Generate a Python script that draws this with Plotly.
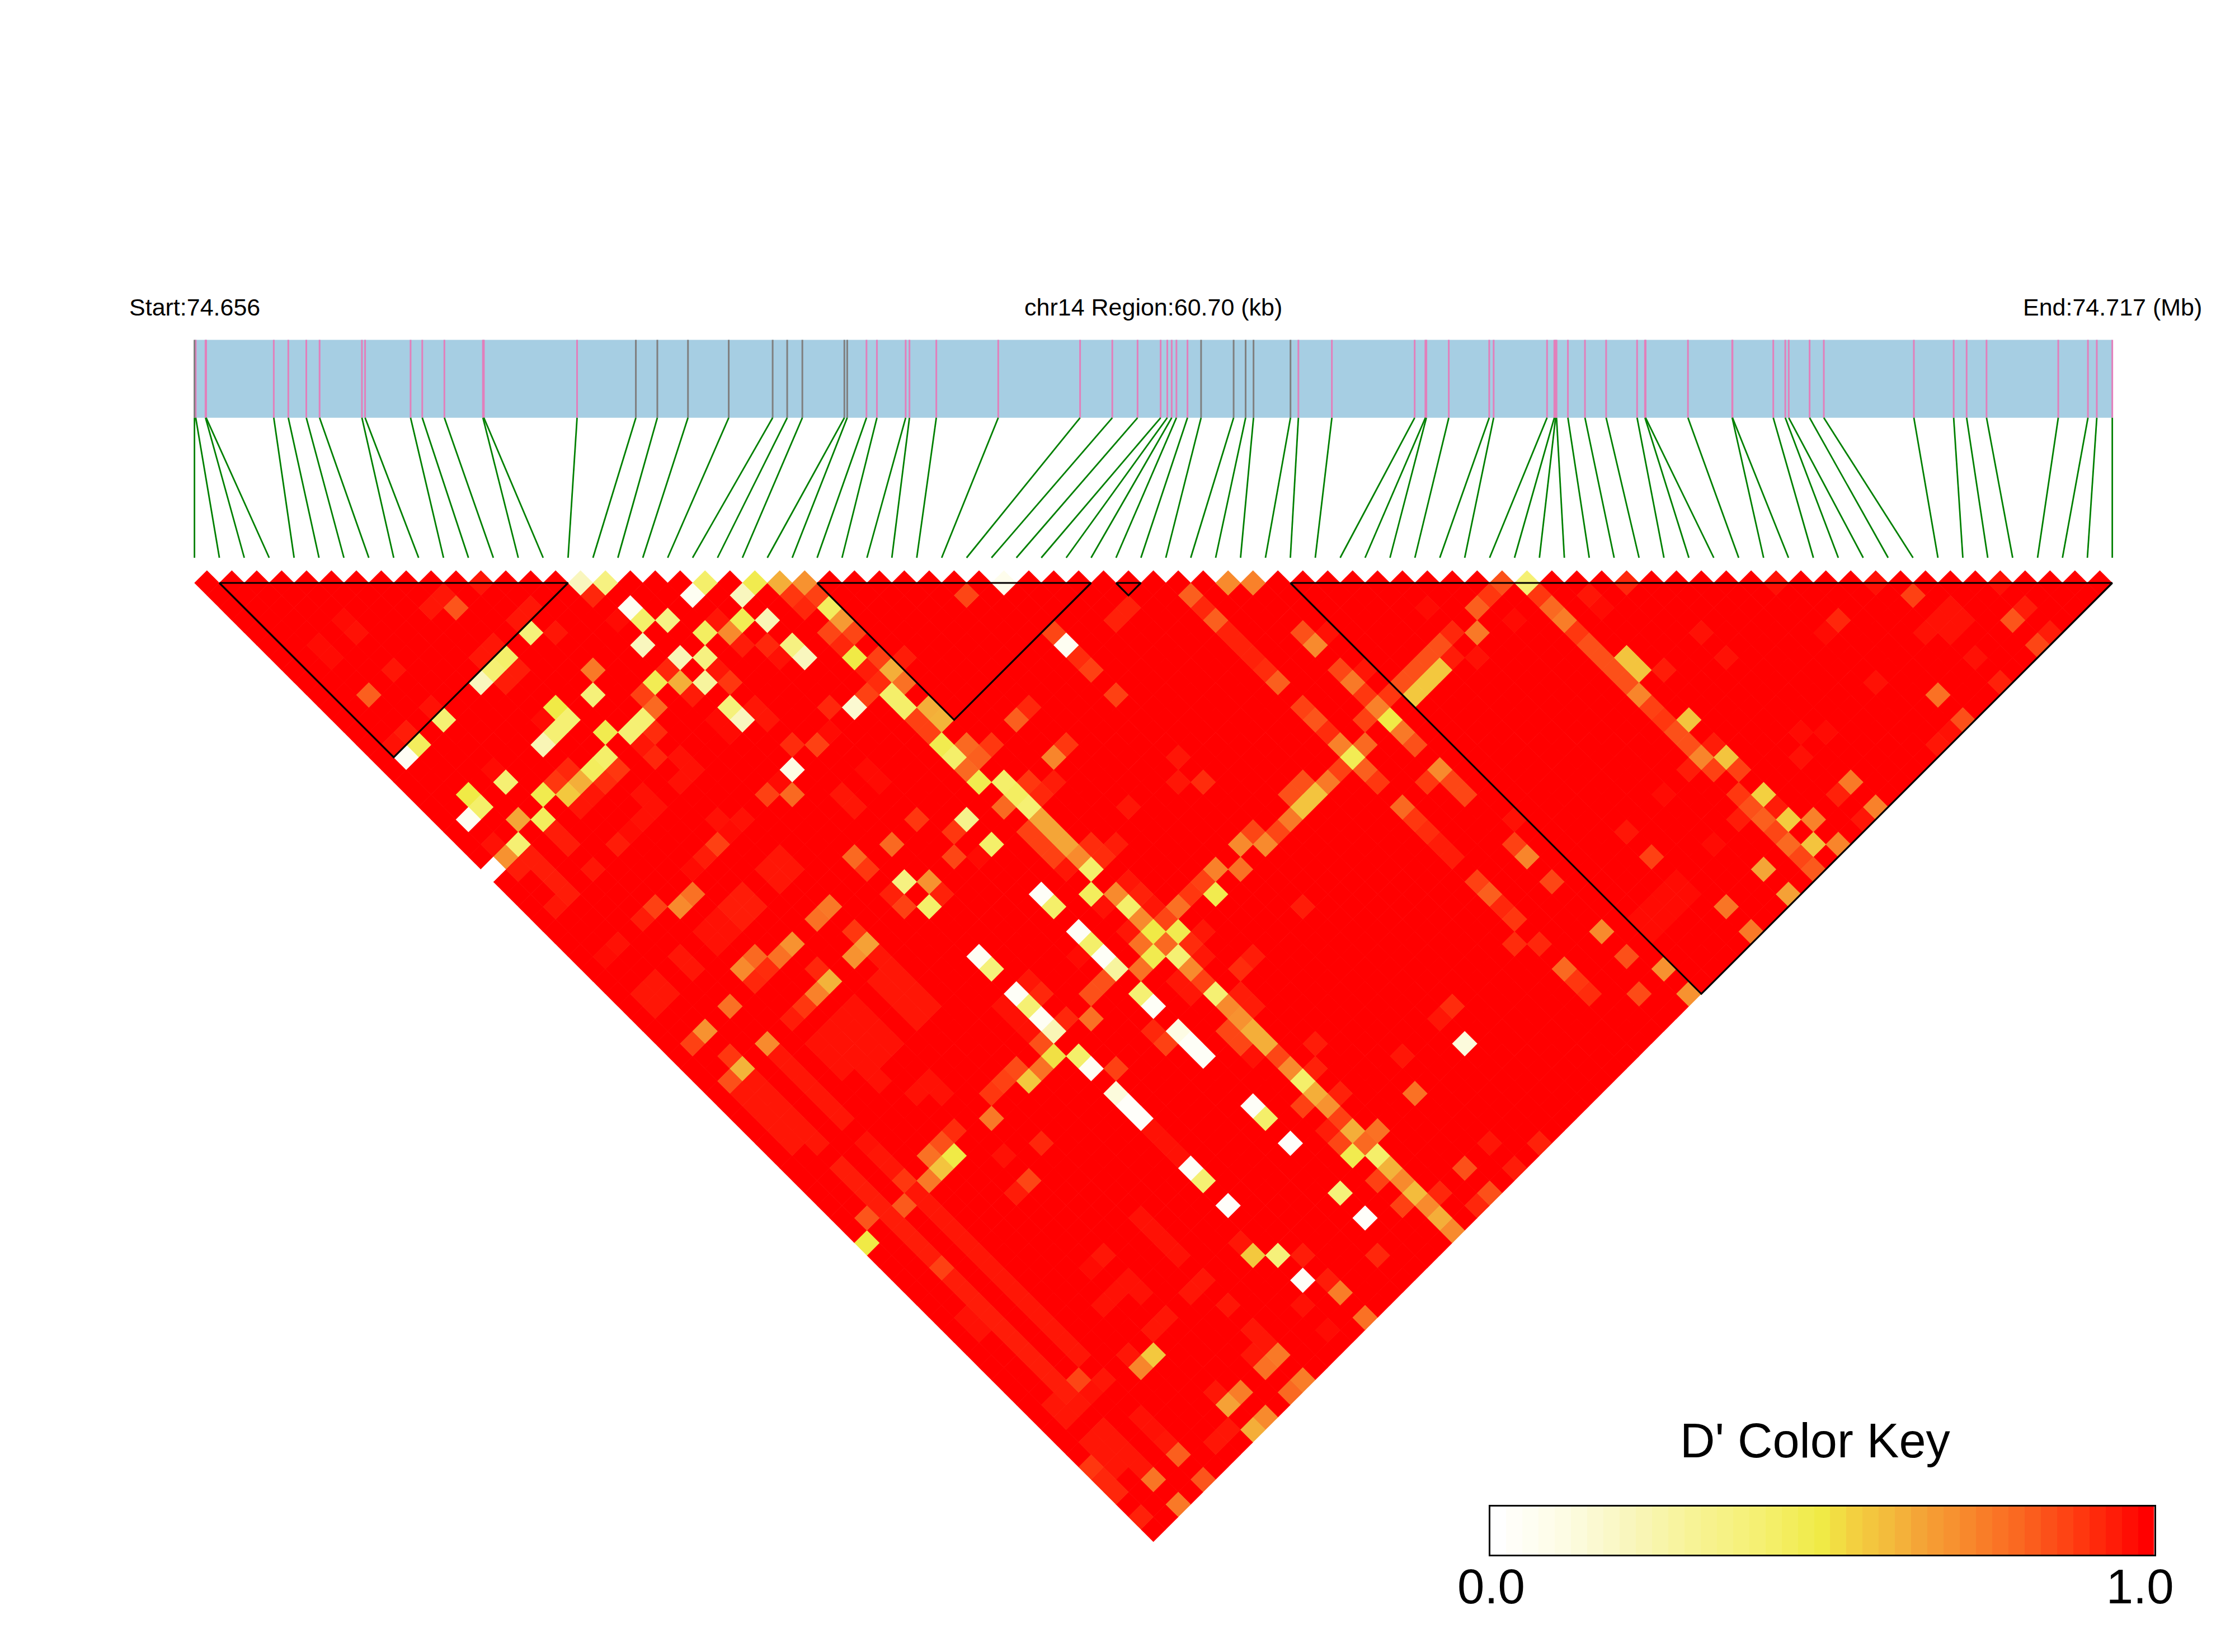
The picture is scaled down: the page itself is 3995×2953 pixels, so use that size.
import plotly.graph_objects as go

# ---- data -----------------------------------------------------------------
chromosome = "chr14"
region_start_mb = "74.656"
region_end_mb = "74.717"
region_kb = 60.70

snp_kb = [0.00, 0.04, 0.35, 0.37, 2.51, 2.97, 3.54, 3.96, 5.30, 5.40, 6.84, 7.21, 7.91, 9.13, 9.16, 12.11,
          13.97, 14.65, 15.62, 16.91, 18.30, 18.76, 19.24, 20.57, 20.66, 21.27, 21.60, 22.51, 22.63, 23.48,
          25.44, 28.03, 29.05, 29.85, 30.58, 30.79, 30.93, 31.08, 31.43, 31.86, 32.89, 33.27, 33.52, 34.69,
          34.94, 36.00, 38.62, 38.96, 38.99, 39.70, 40.98, 41.12, 42.81, 43.04, 43.08, 43.11, 43.47, 44.01,
          44.68, 45.66, 45.91, 45.93, 47.27, 48.67, 48.68, 49.97, 50.35, 50.46, 51.12, 51.57, 54.42, 55.68,
          56.09, 56.72, 58.99, 59.93, 60.21, 60.70]
grey_snps = [0, 16, 17, 18, 19, 20, 21, 22, 23, 24, 39, 40, 41, 42, 43]

block_first = [1, 25, 37, 44]
block_last = [15, 36, 38, 77]

# cells that are not full red: (i+j, j-i-1, D')
bands = [
 (45,40,.96),(46,41,.96),(47,42,.96),(48,43,.96),(49,44,.96),(50,45,.96),(52,47,.95),(53,48,.95),(54,49,.95),
 (55,50,.95),(56,51,.95),(57,52,.95),(58,53,.95),(59,54,.95),(61,56,.95),(62,57,.95),(63,58,.95),(64,59,.95),
 (65,60,.95),(66,61,.95),(67,62,.95),(68,63,.95),(69,64,.95),(70,65,.95),
 (44,41,.96),(45,42,.96),(46,43,.96),(47,44,.96),(48,45,.96),
 (47,38,.96),(48,39,.96),(49,40,.96),(50,41,.96),(51,42,.96),(52,43,.96),(54,45,.97),(55,46,.96),(56,47,.96),
 (58,49,.96),(59,50,.96),(60,51,.96),(61,52,.96),(62,53,.96),(63,54,.96),(64,55,.96),(65,56,.96),(66,57,.96),
 (67,58,.96),(68,59,.96),(69,60,.96),(70,61,.96),(71,62,.96),
]
faint = [
 (53,34,.97),(52,35,.97),(54,35,.97),(51,36,.97),(53,36,.97),(55,36,.97),(50,37,.97),(52,37,.97),(54,37,.97),
 (56,37,.97),(51,38,.97),(53,38,.97),(55,38,.97),(52,39,.97),(54,39,.97),(55,40,.97),(55,32,.96),(56,31,.96),
 (56,33,.96),(57,32,.96),(57,34,.96),(58,33,.96),(58,35,.96),(59,34,.96),(77,44,.97),(78,45,.97),(79,46,.97),
 (62,59,.97),(63,60,.97),(81,56,.96),(80,57,.96),(78,59,.96),(77,60,.96),(75,62,.96),(73,54,.96),(72,55,.98),
 (75,56,.97),(76,57,.97),(74,57,.97),(73,58,.97),(68,54,.97),(69,53,.97),(70,52,.97),(71,51,.97),(67,55,.97),
 (76,51,.97),(77,52,.97),(78,53,.97),(79,54,.97),(83,58,.96),(84,60,.96),(85,60,.96),(86,61,.96),(85,62,.96),
 (80,62,.96),(79,63,.96),(78,64,.96),(81,63,.96),(82,64,.96),(82,65,.96),(82,69,.96),(83,68,.96),(73,68,.96),
 (74,69,.96),(75,70,.96),(76,71,.96),(73,70,.96),(74,71,.96),(72,69,.96),(76,67,.97),(77,68,.97),(78,69,.96),
 (71,66,.96),(69,66,.96),(70,67,.96),(72,65,.97),(119,24,.98),(118,25,.98),(120,25,.98),(117,26,.98),(119,26,.98),
 (116,27,.98),(118,27,.98),(117,28,.98),(134,8,.98),(133,9,.98),(135,9,.98),(132,10,.98),(134,10,.98),(131,12,.98),
]
top_row = [
 (23,0,.96),(31,0,.2),(33,0,.36),(41,0,.42),(45,0,.48),(47,0,.63),(49,0,.7),(65,0,.07),(83,0,.72),(85,0,.74),
 (105,0,.85),(107,0,.4),(115,0,.93),(127,0,.97),(135,0,.97),(145,0,.97),
]
left_part = [
 (32,1,.93),(35,2,.05),(40,1,.05),(44,1,.2),(48,1,.9),(19,2,.96),(20,1,.96),(21,2,.84),(27,2,.96),(26,3,.96),
 (36,3,.42),(38,3,.35),(34,3,.98),(12,3,.98),(13,4,.97),(27,4,.38),(29,4,.96),(36,5,.2),(42,3,.96),(44,3,.47),
 (46,3,.22),(43,4,.72),(41,4,.44),(44,5,.95),(46,5,.93),(48,5,.36),(49,6,.2),(47,6,.97),(39,6,.22),(41,6,.36),
 (38,7,.93),(42,7,.96),(32,7,.76),(37,8,.47),(39,8,.63),(41,8,.28),(43,8,.9),(36,9,.88),(40,9,.95),(32,9,.38),
 (37,10,.8),(43,10,.38),(44,11,.2),(45,10,.96),(46,11,.96),(42,11,.98),(43,12,.98),(48,8,.98),(29,10,.5),(30,11,.4),
 (28,11,.98),(29,12,.4),(28,13,.22),(33,12,.48),(36,11,.4),(35,12,.4),(37,12,.92),(36,13,.96),(37,14,.93),(33,14,.42),
 (32,15,.45),(34,15,.9),(31,16,.63),(30,17,.57),(33,16,.92),(32,17,.96),(31,18,.96),(30,15,.93),(29,16,.9),(28,17,.48),
 (39,14,.97),(40,15,.97),(39,16,.97),(36,17,.97),(37,18,.97),(36,19,.97),(35,20,.98),(34,21,.95),(48,15,.1),(48,13,.95),
 (46,17,.88),(48,17,.8),(47,16,.98),(25,16,.4),(24,15,.98),(22,17,.5),(23,18,.42),(22,19,.05),(26,19,.65),(28,19,.45),
 (24,21,.97),(26,21,.4),(25,22,.7),(29,20,.95),(30,21,.95),(24,23,.0),(26,23,.95),(27,22,.95),(28,23,.95),(29,24,.95),
 (30,25,.95),(32,23,.96),(42,21,.88),(41,22,.95),(40,23,.98),(42,19,.97),(44,19,.97),(43,20,.98),(47,22,.96),(46,23,.96),
 (48,23,.96),(47,24,.96),(40,25,.78),(44,25,.95),(24,5,.96),(23,6,.96),(25,6,.42),(24,7,.4),(23,8,.2),(26,7,.95),
 (25,8,.95),(16,7,.96),(10,5,.98),(11,6,.98),(14,9,.82),(19,10,.97),(20,11,.4),(17,12,.95),(16,13,.97),(18,13,.45),
 (17,14,.04),
]
middle_top = [
 (50,1,.88),(49,2,.93),(51,2,.45),(52,3,.68),(51,4,.87),(53,4,.87),(52,5,.93),(53,6,.5),(55,6,.88),(57,6,.95),
 (54,7,.95),(56,7,.63),(55,8,.92),(57,8,.78),(54,9,.88),(51,10,.93),(53,10,.15),(56,9,.42),(57,10,.42),(59,10,.63),
 (60,11,.62),(58,11,.88),(59,12,.88),(51,12,.98),(50,13,.88),(54,15,.98),(55,16,.98),(52,17,.96),(53,18,.96),
 (58,19,.9),(62,19,.33),(61,20,.9),(56,21,.8),(64,21,.42),(61,22,.87),(63,22,.98),(53,22,.8),(54,23,.9),(57,24,.36),
 (59,24,.7),(60,25,.94),(56,25,.94),(62,1,.87),(60,13,.48),(61,14,.42),(62,15,.8),(63,16,.48),(62,13,.8),(64,13,.9),
 (63,14,.82),(70,13,.9),(69,14,.73),(66,11,.82),(67,10,.93),(65,16,.42),(66,17,.44),(67,18,.4),(65,18,.8),(67,16,.9),
 (69,16,.95),(68,17,.93),(68,19,.65),(69,20,.65),(70,21,.65),(67,20,.88),(68,21,.88),(69,22,.88),(71,22,.72),(72,21,.92),
 (73,22,.92),(74,21,.95),(70,23,.96),(72,23,.42),(68,25,.03),(72,25,.45),(74,25,.72),(75,24,.96),(76,25,.94),(69,4,.87),
 (70,5,.05),(71,6,.92),(72,7,.88),(74,9,.88),(75,2,.94),(74,3,.94),(80,1,.82),(81,2,.93),(82,3,.82),(83,4,.94),
 (84,5,.94),(85,6,.94),(86,7,.92),(87,8,.82),(89,4,.85),(90,5,.72),(91,4,.97),(92,7,.87),(94,7,.96),(93,8,.76),
 (94,9,.9),(96,9,.9),(95,10,.74),(96,11,.5),(94,11,.88),(89,10,.88),(90,11,.84),(91,12,.92),(92,13,.74),(94,13,.8),
 (93,14,.47),(92,15,.88),(94,15,.82),(95,16,.9),(89,16,.85),(88,17,.85),(91,16,.76),(90,17,.58),(89,18,.58),(88,19,.76),
 (87,20,.87),(85,20,.87),(84,21,.72),(86,21,.72),(82,23,.74),(84,23,.78),(81,24,.88),(82,25,.48),(80,25,.9),(79,14,.96),
 (79,16,.96),(81,16,.92),(75,18,.96),(48,13,.92),
]
right_part = [
 (104,1,.9),(103,2,.82),(108,1,.9),(109,2,.8),(110,3,.75),(111,4,.9),(112,5,.85),(113,6,.85),(114,7,.85),(115,8,.85),
 (116,9,.73),(117,10,.88),(118,11,.9),(119,12,.85),(120,13,.85),(121,14,.73),(122,15,.88),(115,6,.58),(116,7,.58),
 (118,7,.95),(120,11,.58),(122,13,.95),(123,14,.58),(124,15,.88),(120,15,.95),(124,17,.9),(126,17,.55),(125,18,.85),
 (127,18,.95),(124,19,.95),(126,19,.82),(128,19,.56),(130,19,.74),(127,20,.87),(128,21,.8),(130,21,.58),(132,21,.73),
 (129,22,.87),(130,23,.83),(99,2,.98),(106,3,.98),(101,4,.93),(103,4,.76),(101,6,.95),(103,6,.97),(100,5,.85),(99,6,.85),
 (98,7,.85),(97,8,.85),(100,7,.57),(99,8,.57),(98,9,.57),(97,12,.76),(98,13,.85),(100,15,.72),(99,16,.9),(101,16,.87),
 (102,17,.87),(97,18,.8),(98,19,.9),(99,20,.92),(100,21,.95),(101,22,.95),(106,19,.97),(106,21,.88),(107,22,.73),(109,24,.87),
 (103,24,.88),(104,25,.82),(105,26,.93),(106,27,.9),(106,29,.92),(108,29,.93),(113,28,.72),(115,30,.85),(118,31,.7),
 (110,31,.8),(111,32,.9),(112,33,.92),(116,33,.86),(120,33,.7),(101,34,.93),(117,22,.88),(126,23,.65),(128,25,.66),
 (123,26,.77),(125,28,.76),(133,16,.76),(132,17,.94),(135,18,.74),(134,19,.96),(140,9,.78),(142,11,.85),(141,12,.97),
 (140,13,.96),(145,8,.94),(138,1,.88),(146,3,.84),(147,2,.95),(148,5,.87),(149,4,.95),(132,3,.93),(131,4,.98),(121,4,.97),
 (123,6,.97),(112,1,.96),(113,2,.98),(141,2,.97),(140,3,.97),(142,3,.97),(141,4,.97),(139,4,.97),(143,6,.97),(135,8,.97),
 (129,12,.98),(129,14,.97),(118,17,.98),(115,20,.96),(122,21,.98),
]
lower_left = [
 (29,26,.96),(39,26,.72),(37,26,.88),(36,27,.95),(43,26,.95),(45,26,.95),(44,27,.95),(42,27,.97),(41,28,.97),(43,28,.97),
 (42,29,.97),(51,26,.76),(50,27,.78),(53,28,.9),(54,29,.66),(53,30,.7),(55,30,.96),(48,29,.7),(47,30,.78),(45,30,.8),
 (44,31,.72),(46,31,.92),(45,32,.93),(50,31,.93),(51,32,.62),(50,33,.74),(49,34,.9),(48,35,.95),(43,34,.78),(41,36,.7),
 (40,37,.88),(46,37,.72),(43,38,.9),(44,39,.62),(43,40,.85),(34,29,.97),(33,30,.98),(39,30,.96),(40,31,.96),(37,32,.96),
 (38,33,.96),(36,33,.96),(37,34,.96),(57,26,.88),(59,26,.42),(69,26,.42),(63,30,.04),(64,31,.38),(66,33,.03),(67,34,.4),
 (68,35,.04),(69,36,.22),(69,38,.52),(68,39,.78),(66,39,.86),(67,40,.57),(65,40,.88),(64,41,.9),(64,43,.76),(68,33,.93),
 (67,32,.96),(65,34,.97),(66,35,.97),(67,36,.97),(68,37,.85),(59,40,.97),(58,41,.97),(60,41,.97),(61,44,.92),(60,45,.85),
 (61,46,.5),(59,46,.78),(60,47,.58),(59,48,.76),(57,48,.9),(57,50,.83),(65,46,.97),(67,48,.87),(66,49,.95),(54,51,.84),
 (68,45,.93),(54,53,.5),(60,55,.88),
]
lower_mid = [
 (75,26,.42),(76,27,.72),(77,28,.5),(78,29,.8),(79,28,.48),(78,27,.87),(79,26,.78),(80,25,.9),(81,24,.88),(75,24,.96),
 (76,25,.94),(77,26,.96),(73,26,.97),(75,28,.96),(76,29,.78),(77,30,.48),(79,30,.4),(80,29,.92),(81,28,.96),(81,30,.96),
 (76,31,.78),(80,31,.72),(81,32,.88),(79,32,.96),(80,33,.96),(82,33,.4),(83,34,.72),(84,35,.7),(85,36,.63),(86,37,.63),
 (84,33,.95),(85,34,.95),(85,30,.95),(84,31,.92),(71,28,.03),(72,29,.42),(73,30,.03),(74,31,.28),(71,30,.98),(73,32,.85),
 (72,33,.85),(70,35,.93),(72,35,.78),(76,33,.4),(77,34,.03),(77,36,.93),(78,37,.88),(79,36,.1),(80,37,.03),(81,38,.03),
 (71,38,.42),(72,39,.04),(74,39,.88),(74,41,.12),(75,42,.02),(76,43,.02),(85,42,.03),(86,43,.42),(88,45,.02),(80,47,.03),
 (81,48,.4),(83,50,.02),(92,49,.38),(94,51,.02),(83,36,.87),(84,37,.87),(85,38,.97),(87,38,.87),(88,39,.72),(89,40,.42),
 (90,41,.63),(91,42,.7),(92,43,.88),(93,44,.63),(94,45,.8),(95,46,.42),(96,47,.62),(97,48,.72),(98,49,.6),(99,50,.72),
 (100,51,.63),(101,52,.72),(95,44,.78),(93,46,.48),(92,45,.87),(91,44,.95),(89,42,.88),(92,41,.94),(90,37,.95),(90,39,.94),
 (95,48,.88),(97,50,.88),(98,41,.78),(102,37,.12),(101,34,.92),(100,35,.96),(97,38,.96),(89,26,.95),(102,47,.85),(100,49,.93),
 (104,49,.85),(103,50,.93),(108,45,.94),(106,47,.95),(104,45,.96),
]
bottom = [
 (85,54,.57),(87,54,.38),(84,53,.96),(89,54,.95),(89,56,.03),(91,56,.95),(92,57,.75),(89,58,.97),(95,54,.93),(94,59,.78),
 (91,60,.98),(87,62,.76),(86,63,.78),(77,62,.57),(76,63,.73),(71,64,.87),(73,64,.96),(83,66,.66),(84,65,.75),(86,67,.72),
 (85,68,.63),(88,65,.8),(89,64,.75),(79,70,.82),(81,72,.84),(77,72,.77),(79,74,.76),(72,71,.9),(73,72,.93),(74,73,.93),
 (76,75,.94),
]

key_values = [k / 40 for k in range(41)]
key_ticks = [-0.0108, 0.9906]
key_tick_labels = ["0.0", "1.0"]
colour_stops = [
 (0, "#FFFFFF"), (.1, "#FDFCE4"), (.2, "#F9F6BE"), (.3, "#F7F396"), (.4, "#F5F073"), (.5, "#F0EA46"),
 (.55, "#F3D040"), (.6, "#F3BC3C"), (.65, "#F4A537"), (.7, "#F79230"), (.75, "#F97D28"), (.8, "#FA6921"),
 (.85, "#FC5019"), (.9, "#FF370F"), (.95, "#FF1C08"), (1, "#FF0000"),
]

# ---- frame of the picture ---------------------------------------------------
W, H = 3995, 2953
LEFT, STEP, TOP, ROW = 347.6, 44.52, 1042.0, 22.26
n = len(snp_kb)

dprime = {}
for group in (bands, faint, top_row, left_part, middle_top, right_part, lower_left, lower_mid, bottom):
    for s, lag, d in group:
        if (s + lag) % 2 == 1:
            dprime[((s - lag - 1) // 2, (s + lag + 1) // 2)] = d

cells = [(i, j, dprime.get((i, j), 1.0)) for i in range(n) for j in range(i + 1, n)]
cells.sort(key=lambda c: -c[2])
cx = [(i + j) / 2 for i, j, d in cells]
cy = [j - i - 1 for i, j, d in cells]
cd = [d for i, j, d in cells]

gene_top, gene_bottom, fan_bottom = (607.5 - TOP) / ROW, (746.8 - TOP) / ROW, (997 - TOP) / ROW
snp_x = [k / region_kb * (n - 1) for k in snp_kb]

fig = go.Figure()
fig.add_shape(type="rect", xref="x", yref="y", x0=0, x1=n - 1, y0=gene_top, y1=gene_bottom,
              fillcolor="#A6CEE3", line_width=0, layer="below")


def segments(pairs):
    xs, ys = [], []
    for (x0, y0), (x1, y1) in pairs:
        xs += [x0, x1, None]
        ys += [y0, y1, None]
    return xs, ys


for mask, colour in ((False, "#E27FBB"), (True, "#7F7F7F")):
    xs, ys = segments([((snp_x[k], gene_top), (snp_x[k], gene_bottom)) for k in range(n) if (k in grey_snps) == mask])
    fig.add_trace(go.Scatter(x=xs, y=ys, mode="lines", line=dict(color=colour, width=3), hoverinfo="skip"))

xs, ys = segments([((snp_x[k], gene_bottom), (k, fan_bottom)) for k in range(n)])
fig.add_trace(go.Scatter(x=xs, y=ys, mode="lines", line=dict(color="#008000", width=2.8), hoverinfo="skip"))

fig.add_trace(go.Scatter(x=cx, y=cy, mode="markers",
                         marker=dict(symbol="diamond", size=2 * (ROW + 0.35) / 1.3, color=cd, coloraxis="coloraxis",
                                     line_width=0),
                         hovertemplate="D'=%{marker.color}<extra></extra>"))

tx, ty = [], []
for a, b in zip(block_first, block_last):
    tx += [a, b, (a + b) / 2, a, None]
    ty += [0, 0, b - a, 0, None]
fig.add_trace(go.Scatter(x=tx, y=ty, mode="lines", line=dict(color="black", width=3.2), hoverinfo="skip"))

fig.add_trace(go.Heatmap(x=key_values, y=[0, 1], z=[key_values, key_values], coloraxis="coloraxis",
                         xaxis="x2", yaxis="y2", hoverinfo="skip"))

head_y = (549 - TOP) / ROW
for xpos, label in ((0, f"Start:{region_start_mb}"),
                    ((n - 1) / 2, f"{chromosome} Region:{region_kb:.2f} (kb)"),
                    (n - 1, f"End:{region_end_mb} (Mb)")):
    fig.add_annotation(x=xpos, y=head_y, xref="x", yref="y", text=label, showarrow=False, xanchor="center",
                       yanchor="middle", font=dict(family="Liberation Sans", size=43, color="black"))
fig.add_annotation(x=3245 / W, y=1 - 2575 / H, xref="paper", yref="paper", text="D' Color Key", showarrow=False,
                   xanchor="center", yanchor="middle", font=dict(family="Liberation Sans", size=86.5, color="black"))

hidden = dict(visible=False, showgrid=False, zeroline=False, automargin=False)
half_bin = 0.0125
fig.update_layout(
    width=W, height=H, margin=dict(l=0, r=0, t=0, b=0, autoexpand=False), paper_bgcolor="white", plot_bgcolor="white",
    showlegend=False,
    xaxis=dict(domain=[0, 1], range=[-LEFT / STEP, (W - LEFT) / STEP], **hidden),
    yaxis=dict(domain=[0, 1], range=[(H - TOP) / ROW, -TOP / ROW], **hidden),
    xaxis2=dict(domain=[2663.5 / W, 3850.5 / W], range=[-half_bin, 1 + half_bin], anchor="y2", showgrid=False, zeroline=False,
                automargin=False, tickmode="array", tickvals=key_ticks, ticktext=key_tick_labels, ticks="",
                ticklabelstandoff=-20, tickfont=dict(family="Liberation Sans", size=87, color="black"),
                showline=True, linecolor="black", linewidth=2.5, mirror=True),
    yaxis2=dict(domain=[1 - 2779.2 / H, 1 - 2692.5 / H], range=[-0.5, 1.5], anchor="x2", showticklabels=False, ticks="",
                automargin=False, showgrid=False, zeroline=False, showline=True, linecolor="black", linewidth=2.5, mirror=True),
    coloraxis=dict(cmin=0, cmax=1, colorscale=[[p, c] for p, c in colour_stops], showscale=False),
)

fig.write_html("out.html", config={"displayModeBar": False},
               post_script="document.body.style.margin='0';document.body.style.overflow='hidden';")
